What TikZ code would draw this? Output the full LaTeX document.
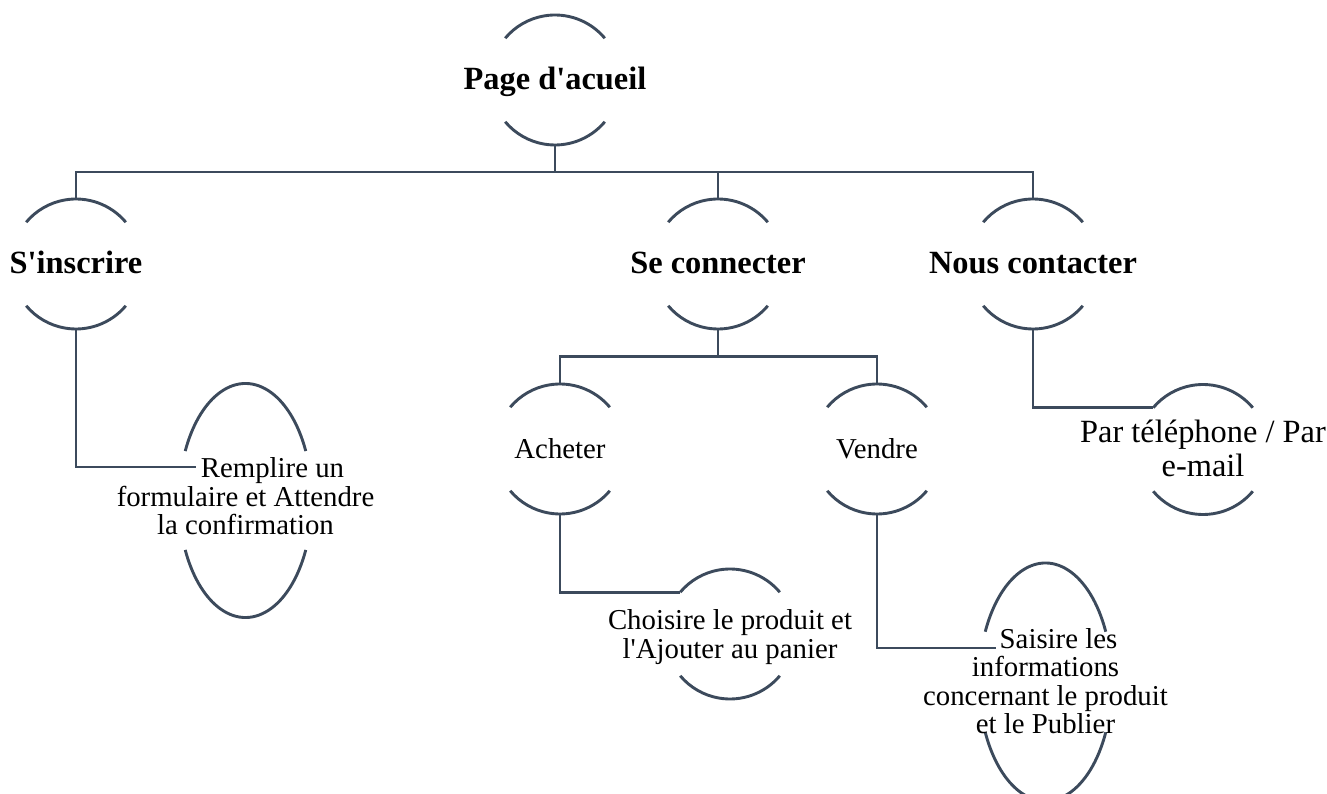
\documentclass[tikz,border=0pt]{standalone}
\usepackage{fontspec}
\setmainfont{Liberation Serif}[Ligatures=TeXOff]
\usetikzlibrary{shapes.geometric,calc}
\definecolor{linkgray}{HTML}{3C4A5C}

\tikzset{
  linkline/.style={draw=linkgray, line width=2.9pt},
  roundbox/.style={circle, minimum size=130pt, inner sep=0pt, outer sep=0pt, draw=none},
  ovalbox/.style={ellipse, minimum width=133pt, minimum height=#1, inner sep=0pt, outer sep=0pt, draw=none},
  headtext/.style={font=\bfseries\fontsize{32.4}{34}\selectfont, text height=25pt, text depth=6.5pt, inner sep=0pt},
  itemtext/.style={font=\fontsize{28.8}{29}\selectfont, text height=26pt, text depth=6pt, inner sep=0pt},
  blocktext/.style={font=\fontsize{28.8}{#1}\selectfont, align=center, inner sep=0pt},
  largeblocktext/.style={font=\fontsize{32.4}{#1}\selectfont, align=center, inner sep=0pt},
}

% top and bottom caps of a bubble: node name, x radius, y radius, half-opening angle
\newcommand\capsarcs[4]{%
  \draw[linkline] (#1.center) ++(#4:#2pt and #3pt)
    arc[start angle=#4, end angle={180-#4}, x radius=#2pt, y radius=#3pt];
  \draw[linkline] (#1.center) ++(-#4:#2pt and #3pt)
    arc[start angle=-#4, end angle={-180+#4}, x radius=#2pt, y radius=#3pt];
}

\begin{document}
\begin{tikzpicture}[x=1pt, y=1pt]
  \useasboundingbox (0,0) rectangle (1327,793);
  \fill[white] (0,0) rectangle (1327,793);

  % bubbles
  \node[roundbox] (page) at (555,713) {};
  \node[roundbox] (sinscrire) at (76,529) {};
  \node[roundbox] (seconnecter) at (718,529) {};
  \node[roundbox] (nous) at (1033,529) {};
  \node[roundbox] (acheter) at (560,344) {};
  \node[roundbox] (vendre) at (877,344) {};
  \node[roundbox] (par) at (1203,343.5) {};
  \node[roundbox] (choisire) at (730,159) {};
  \node[ovalbox=234pt] (remplire) at (245.5,292.5) {};
  \node[ovalbox=238pt] (saisire) at (1045.5,111) {};

  \capsarcs{page}{65}{65}{40}
  \capsarcs{sinscrire}{65}{65}{40}
  \capsarcs{seconnecter}{65}{65}{40}
  \capsarcs{nous}{65}{65}{40}
  \capsarcs{acheter}{65}{65}{40}
  \capsarcs{vendre}{65}{65}{40}
  \capsarcs{par}{65}{65}{40}
  \capsarcs{choisire}{65}{65}{40}
  \capsarcs{remplire}{66.5}{117}{25}
  \capsarcs{saisire}{66.5}{119}{25}

  % labels
  \node[headtext] (page-t) at (page.center) {Page d'acueil};
  \node[headtext] (sinscrire-t) at (sinscrire.center) {S'inscrire};
  \node[headtext] (seconnecter-t) at (seconnecter.center) {Se connecter};
  \node[headtext] (nous-t) at (nous.center) {Nous contacter};
  \node[itemtext] (acheter-t) at (acheter.center) {Acheter};
  \node[itemtext] (vendre-t) at (vendre.center) {Vendre};
  \node[largeblocktext=34.5, yshift=1pt] (par-t) at (par.center)
    {Par téléphone / Par\\e-mail};
  \node[blocktext=29.3, yshift=-3pt] (choisire-t) at (choisire.center)
    {Choisire le produit et\\l'Ajouter au panier};
  \node[blocktext=28.5, yshift=4pt] (remplire-t) at (remplire.center)
    {\hspace*{54pt}Remplire un\\formulaire et Attendre\\la confirmation};
  \node[blocktext=28.3, yshift=1pt] (saisire-t) at (saisire.center)
    {\hspace*{26pt}Saisire les\\informations\\concernant le produit\\et le Publier};

  % connectors
  \coordinate (bus1) at ($(page.south)!0.5!(seconnecter.north)$);
  \coordinate (bus2) at ($(seconnecter.south)!0.5!(acheter.north)$);
  \draw[linkline] (page.south) -- (page.south |- bus1) -| (sinscrire.north);
  \draw[linkline] (page.south |- bus1) -| (seconnecter.north);
  \draw[linkline] (page.south |- bus1) -| (nous.north);
  \draw[linkline] (seconnecter.south) -- (seconnecter.south |- bus2) -| (acheter.north);
  \draw[linkline] (seconnecter.south |- bus2) -| (vendre.north);
  \draw[linkline] (sinscrire.south) |- ([shift={(-50pt,33.5pt)}]remplire.center);
  \draw[linkline] (acheter.south) |- (choisire.140);
  \draw[linkline] (vendre.south) |- ([shift={(-50pt,34pt)}]saisire.center);
  \draw[linkline] (nous.south) |- (par.140);
\end{tikzpicture}
\end{document}
